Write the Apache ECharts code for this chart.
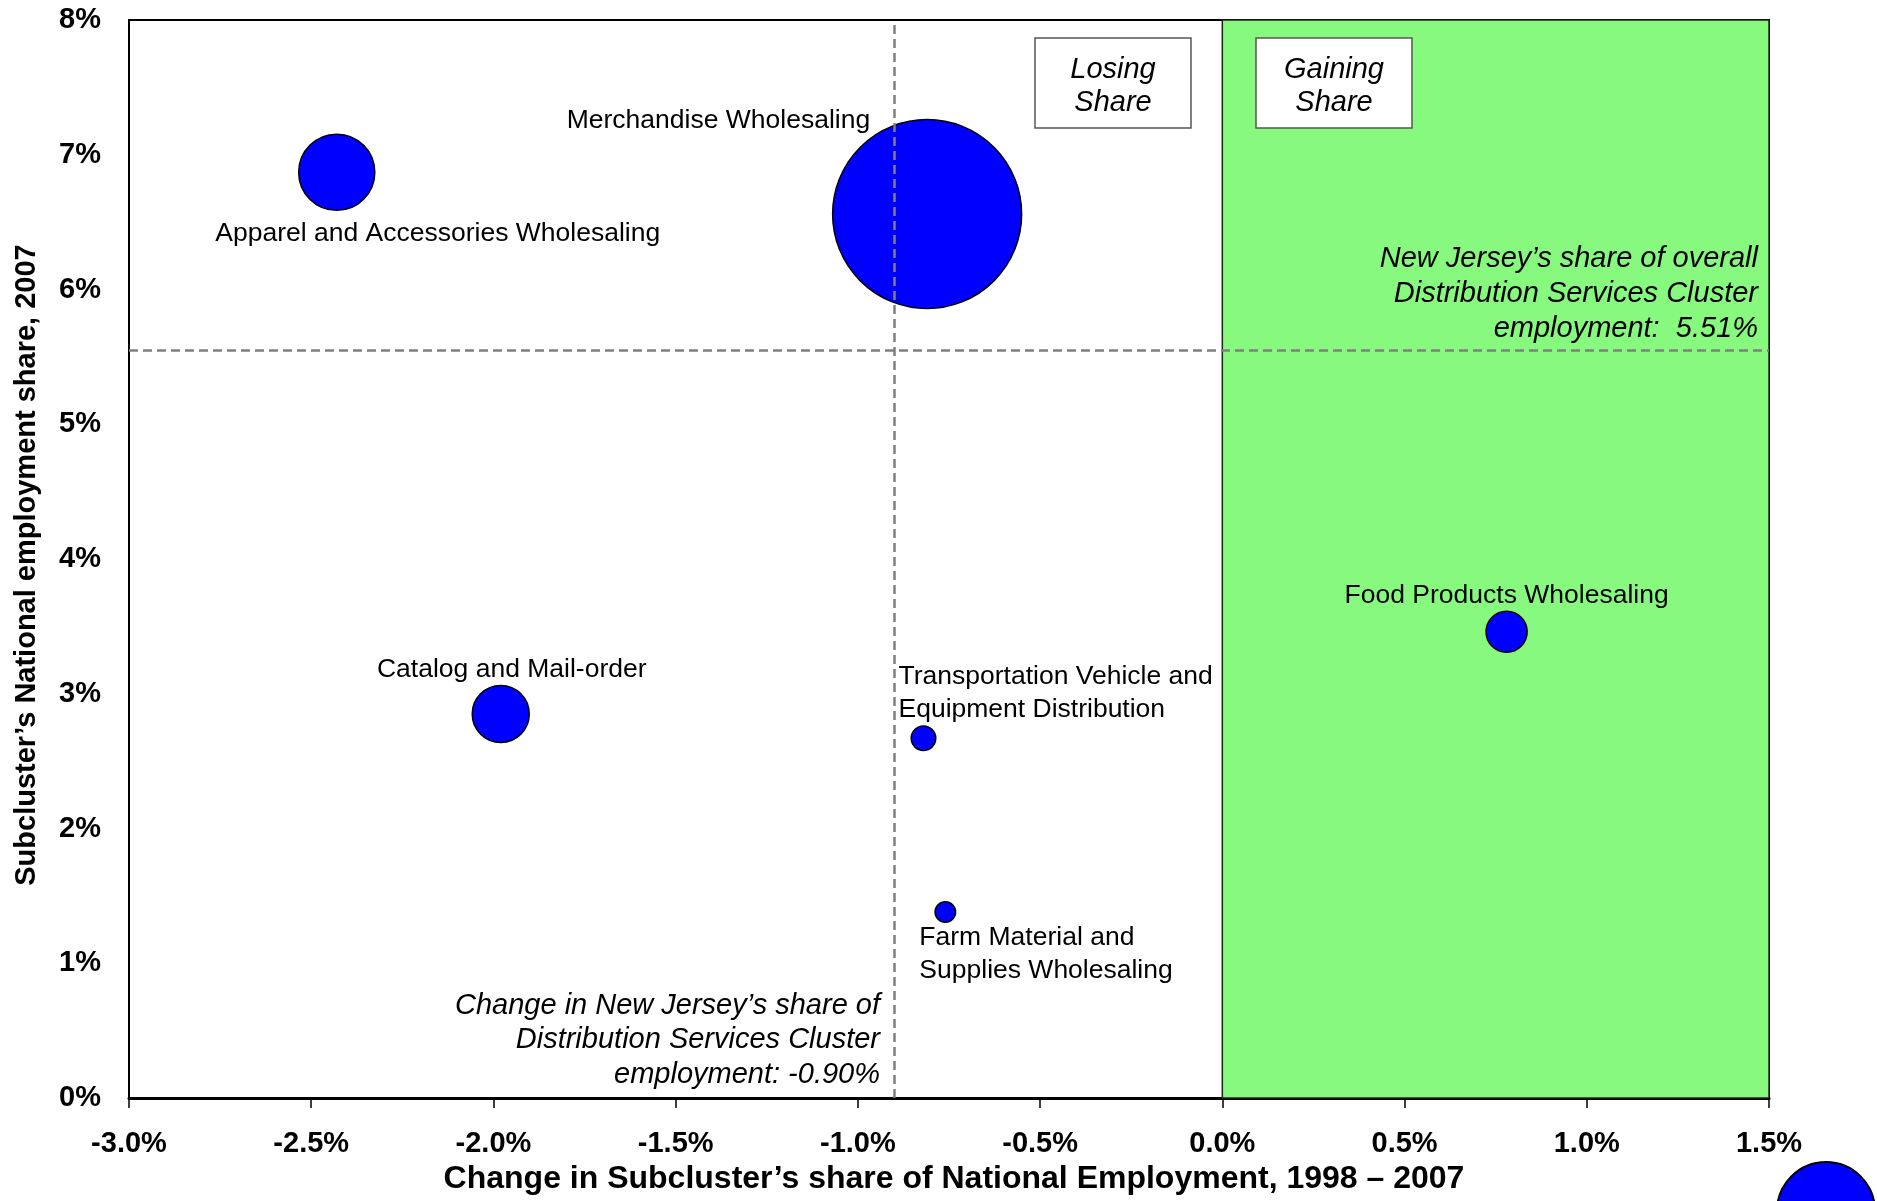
<!DOCTYPE html>
<html>
<head>
<meta charset="utf-8">
<script src="https://cdn.jsdelivr.net/npm/echarts@6/dist/echarts.min.js"></script>
<style>html,body{margin:0;padding:0;background:#fff;}#chart{width:1877px;height:1201px;}</style>
</head>
<body>
<div id="chart"></div>
<script>
// ---- data ----
const categories = [
  'Merchandise Wholesaling',
  'Apparel and Accessories Wholesaling',
  'Catalog and Mail-order',
  'Transportation Vehicle and\nEquipment Distribution',
  'Farm Material and\nSupplies Wholesaling',
  'Food Products Wholesaling'
];
const shareChange   = [-0.81, -2.43, -1.98, -0.82, -0.76, 0.78];   // x, %
const nationalShare = [6.56, 6.87, 2.85, 2.67, 1.38, 3.46];        // y, %
const employment    = [178000, 28900, 16200, 3000, 2100, 8400];    // bubble size
const njChangeLine  = -0.90;   // change in NJ share of cluster employment
const njShareLine   = 5.55;    // NJ share of overall cluster employment (drawn)
const gainingFrom   = 0.0;
const gainingTo     = 1.5;

// ---- style / layout ----
const FONT = "'Liberation Sans', Arial, sans-serif";
const labelLayout = {
  'Merchandise Wholesaling': { align: 'right', offset: [-57, -93] },
  'Apparel and Accessories Wholesaling': { align: 'center', offset: [101, 61] },
  'Catalog and Mail-order': { align: 'center', offset: [11, -44] },
  'Transportation Vehicle and\nEquipment Distribution': { align: 'left', offset: [-25, -45] },
  'Farm Material and\nSupplies Wholesaling': { align: 'left', offset: [-26, 42] },
  'Food Products Wholesaling': { align: 'center', offset: [0, -36] }
};

const bubbleData = categories.map((name, i) => ({
  name: name,
  value: [shareChange[i], nationalShare[i], employment[i]],
  label: {
    show: true,
    formatter: name,
    position: 'inside',
    align: labelLayout[name].align,
    verticalAlign: 'middle',
    offset: labelLayout[name].offset,
    fontFamily: FONT,
    fontSize: 26.5,
    lineHeight: 33,
    color: '#000'
  }
}));

const chart = echarts.init(document.getElementById('chart'), null, { renderer: 'canvas' });
const option = {
  animation: false,
  backgroundColor: '#fff',
  grid: {
    left: 129, right: 108, top: 20, bottom: 103,
    show: true, borderColor: '#000', borderWidth: 2, backgroundColor: 'transparent'
  },
  xAxis: {
    type: 'value', min: -3, max: 1.5, interval: 0.5,
    name: 'Change in Subcluster\u2019s share of National Employment, 1998 \u2013 2007',
    nameLocation: 'middle', nameGap: 64,
    nameTextStyle: { fontFamily: FONT, fontWeight: 'bold', fontSize: 32, color: '#000', padding: [0, 0, 0, 10] },
    axisLine: { show: true, onZero: false, lineStyle: { color: '#000', width: 3 } },
    axisTick: { show: true, inside: false, length: 10, lineStyle: { color: '#000', width: 1.5 } },
    axisLabel: {
      margin: 31, fontFamily: FONT, fontWeight: 'bold', fontSize: 29, color: '#000',
      formatter: v => v.toFixed(1) + '%'
    },
    splitLine: { show: false }
  },
  yAxis: {
    type: 'value', min: 0, max: 8, interval: 1,
    name: 'Subcluster\u2019s National employment share, 2007',
    nameLocation: 'middle', nameGap: 88, nameRotate: 90,
    nameTextStyle: { fontFamily: FONT, fontWeight: 'bold', fontSize: 29, color: '#000', padding: [0, 12, 0, 0] },
    axisLine: { show: true, onZero: false, lineStyle: { color: '#000', width: 2 } },
    axisTick: { show: false },
    axisLabel: {
      margin: 28, fontFamily: FONT, fontWeight: 'bold', fontSize: 29, color: '#000',
      formatter: v => v + '%'
    },
    splitLine: { show: false }
  },
  series: [
    {
      type: 'scatter', data: [], z: 1, silent: true,
      markArea: {
        silent: true,
        itemStyle: { color: '#86F97E', borderColor: '#222', borderWidth: 1.5 },
        data: [[{ coord: [gainingFrom, 0] }, { coord: [gainingTo, 8] }]]
      }
    },
    {
      type: 'scatter', data: [], z: 2, silent: true,
      markLine: {
        silent: true, symbol: 'none', label: { show: false },
        lineStyle: { color: '#808080', width: 2.5, type: [9, 5] },
        data: [{ xAxis: njChangeLine }, { yAxis: njShareLine }]
      }
    },
    {
      type: 'scatter', z: 3,
      data: bubbleData,
      symbol: 'circle',
      symbolSize: d => 0.448 * Math.sqrt(d[2]),
      itemStyle: { color: '#0000FF', borderColor: '#000', borderWidth: 1.5, opacity: 1 },
      emphasis: { disabled: true }
    }
  ],
  graphic: [
    { type: 'rect', z: 10, shape: { x: 1035, y: 38, width: 156, height: 90 },
      style: { fill: '#fff', stroke: '#555', lineWidth: 1.5 } },
    { type: 'text', z: 11, style: { text: 'Losing\nShare', x: 1113, y: 86, align: 'center', verticalAlign: 'middle',
      font: 'italic 29px ' + FONT, lineHeight: 33, fill: '#000' } },
    { type: 'rect', z: 10, shape: { x: 1256, y: 38, width: 156, height: 90 },
      style: { fill: '#fff', stroke: '#555', lineWidth: 1.5 } },
    { type: 'text', z: 11, style: { text: 'Gaining\nShare', x: 1334, y: 86, align: 'center', verticalAlign: 'middle',
      font: 'italic 29px ' + FONT, lineHeight: 33, fill: '#000' } },
    { type: 'text', z: 11, style: { text: 'New Jersey\u2019s share of overall\nDistribution Services Cluster\nemployment:  5.51%',
      x: 1758, y: 294, align: 'right', verticalAlign: 'middle', font: 'italic 29px ' + FONT, lineHeight: 35, fill: '#000' } },
    { type: 'text', z: 11, style: { text: 'Change in New Jersey\u2019s share of\nDistribution Services Cluster\nemployment: -0.90%',
      x: 880, y: 1040, align: 'right', verticalAlign: 'middle', font: 'italic 29px ' + FONT, lineHeight: 34.5, fill: '#000' } },
    { type: 'circle', z: 10, shape: { cx: 1826, cy: 1211, r: 49 },
      style: { fill: '#0000FF', stroke: '#000', lineWidth: 2 } }
  ]
};
chart.setOption(option);
</script>
</body>
</html>
